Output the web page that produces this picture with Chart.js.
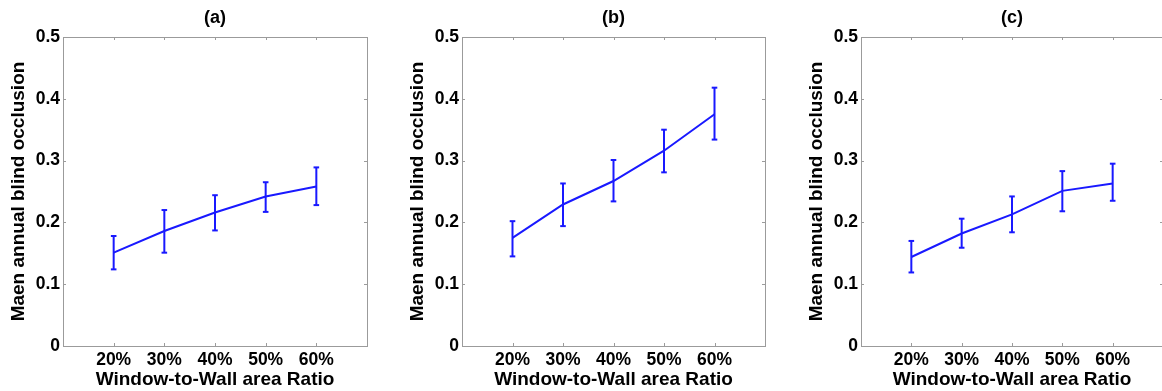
<!DOCTYPE html>
<html>
<head>
<meta charset="utf-8">
<script src="https://cdn.jsdelivr.net/npm/chart.js@4"></script>
<style>
  html, body { margin: 0; padding: 0; background: #fff; overflow: hidden; }
  #wrap { position: relative; width: 1162px; height: 391px; overflow: hidden; }
  .panel { position: absolute; top: 0; height: 391px; }
</style>
</head>
<body>
<div id="wrap">
  <canvas class="panel" id="chartA" width="400" height="391" style="left:0px"></canvas>
  <canvas class="panel" id="chartB" width="400" height="391" style="left:399px"></canvas>
  <canvas class="panel" id="chartC" width="400" height="391" style="left:798px"></canvas>
</div>
<script>
// window-to-wall ratios, placed at x = 2..6 on an axis running 1..7
const wwrLabels = ['20%', '30%', '40%', '50%', '60%'];
const wwrPos = [2, 3, 4, 5, 6];
const yTicks = [0, 0.1, 0.2, 0.3, 0.4, 0.5];

// (a)
const meanA  = [0.151, 0.186, 0.216, 0.242, 0.258];
const upperA = [0.178, 0.220, 0.244, 0.265, 0.289];
const lowerA = [0.124, 0.151, 0.187, 0.217, 0.228];
// (b)
const meanB  = [0.175, 0.229, 0.267, 0.316, 0.375];
const upperB = [0.202, 0.263, 0.301, 0.350, 0.418];
const lowerB = [0.145, 0.194, 0.234, 0.281, 0.334];
// (c)
const meanC  = [0.144, 0.182, 0.213, 0.251, 0.263];
const upperC = [0.170, 0.206, 0.242, 0.283, 0.295];
const lowerC = [0.119, 0.159, 0.184, 0.218, 0.235];

const blue = 'rgb(25,25,255)';
const axisColor = '#9b9b9b';
const fontFamily = '"Liberation Sans", Arial, sans-serif';

// small inward tick marks like a matlab axes box
const innerTicks = {
  id: 'innerTicks',
  beforeDatasetsDraw(chart) {
    const { ctx, chartArea: a, scales: { x, y } } = chart;
    ctx.save();
    ctx.strokeStyle = axisColor;
    ctx.lineWidth = 1;
    ctx.beginPath();
    x.ticks.forEach(t => {
      const px = Math.round(x.getPixelForValue(t.value)) + 0.5;
      ctx.moveTo(px, a.bottom); ctx.lineTo(px, a.bottom - 3);
      ctx.moveTo(px, a.top); ctx.lineTo(px, a.top + 3);
    });
    y.ticks.forEach(t => {
      const py = Math.round(y.getPixelForValue(t.value)) + 0.5;
      ctx.moveTo(a.left, py); ctx.lineTo(a.left + 3, py);
      ctx.moveTo(a.right, py); ctx.lineTo(a.right - 3, py);
    });
    ctx.stroke();
    ctx.restore();
  }
};

function makeChart(id, title, mean, upper, lower, padRight, rightBorder) {
  const meanPts = mean.map((v, i) => ({ x: wwrPos[i], y: v }));
  const barPts = [];
  wwrPos.forEach((p, i) => {
    barPts.push({ x: p, y: lower[i] }, { x: p, y: upper[i] }, { x: p, y: null });
  });
  const capPts = wwrPos.flatMap((p, i) => [{ x: p, y: upper[i] }, { x: p, y: lower[i] }]);

  const borderOpts = { display: true, color: axisColor, width: 1 };

  new Chart(document.getElementById(id), {
    type: 'line',
    data: {
      datasets: [
        { data: meanPts, borderColor: blue, borderWidth: 2, pointRadius: 0, tension: 0 },
        { data: barPts, borderColor: blue, borderWidth: 2, pointRadius: 0, spanGaps: false },
        { data: capPts, showLine: false, pointStyle: 'line', pointRadius: 2.8,
          pointBorderWidth: 2, borderColor: blue, pointBorderColor: blue }
      ]
    },
    options: {
      responsive: false,
      animation: false,
      events: [],
      layout: { padding: { left: 0, right: padRight, top: 0, bottom: 0 } },
      plugins: { legend: { display: false }, tooltip: { enabled: false } },
      scales: {
        x: {
          type: 'linear', position: 'bottom', min: 1, max: 7,
          afterBuildTicks: s => { s.ticks = wwrPos.map(v => ({ value: v })); },
          afterFit: s => { s.height = 45; },
          grid: { display: false, drawTicks: false },
          border: borderOpts,
          ticks: {
            padding: 4, color: '#000', maxRotation: 0, autoSkip: false,
            font: { family: fontFamily, size: 17.5, weight: 'bold' },
            callback: v => wwrLabels[wwrPos.indexOf(v)] || ''
          },
          title: {
            display: true, text: 'Window-to-Wall area Ratio', color: '#000',
            padding: { top: 0, bottom: 0 },
            font: { family: fontFamily, size: 19, weight: 'bold' }
          }
        },
        x2: {
          type: 'linear', position: 'top', min: 1, max: 7,
          afterFit: s => { s.height = 37; },
          grid: { display: false, drawTicks: false },
          border: borderOpts,
          ticks: { display: false },
          title: {
            display: true, text: title, color: '#000',
            padding: { top: 7, bottom: 0 },
            font: { family: fontFamily, size: 18, weight: 'bold' }
          }
        },
        y: {
          type: 'linear', position: 'left', min: 0, max: 0.5,
          afterBuildTicks: s => { s.ticks = yTicks.map(v => ({ value: v })); },
          afterFit: s => { s.width = 63; },
          grid: { display: false, drawTicks: false },
          border: borderOpts,
          ticks: {
            padding: 3, color: '#000',
            font: { family: fontFamily, size: 17.5, weight: 'bold' },
            callback: v => String(Math.round(v * 10) / 10)
          },
          title: {
            display: true, text: 'Maen annual blind occlusion', color: '#000',
            padding: { top: 7, bottom: 0 },
            font: { family: fontFamily, size: 19, weight: 'bold' }
          }
        },
        y2: {
          type: 'linear', position: 'right', min: 0, max: 0.5,
          afterFit: s => { s.width = 0; },
          grid: { display: false, drawTicks: false },
          border: { ...borderOpts, display: rightBorder },
          ticks: { display: false }
        }
      }
    },
    plugins: [innerTicks]
  });
}

makeChart('chartA', '(a)', meanA, upperA, lowerA, 33, true);
makeChart('chartB', '(b)', meanB, upperB, lowerB, 34, true);
// panel (c) runs off the right edge of the figure, its right box side is cut off
makeChart('chartC', '(c)', meanC, upperC, lowerC, 35, false);
</script>
</body>
</html>
